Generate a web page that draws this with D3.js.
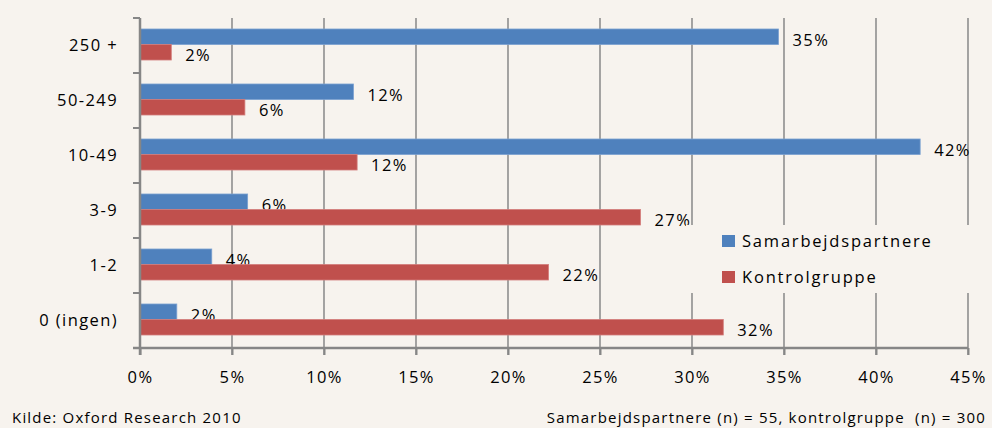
<!DOCTYPE html>
<meta charset="utf-8">
<script src="https://d3js.org/d3.v7.min.js"></script>
<style>
body { margin: 0; background: #f7f3ee; font-family: 'Open Sans', sans-serif; }
svg text { fill: #000; }
</style>
<svg width="992" height="428"></svg>
<script>
// categories (top to bottom) and series values in percent
var categories = ["250 +", "50-249", "10-49", "3-9", "1-2", "0 (ingen)"];
var seriesNames = ["Samarbejdspartnere", "Kontrolgruppe"];
var samarbejde = [34.7, 11.6, 42.4, 5.85, 3.9, 2.0];
var kontrol = [1.7, 5.7, 11.8, 27.2, 22.2, 31.7];
var samarbejdeLabels = ["35%", "12%", "42%", "6%", "4%", "2%"];
var kontrolLabels = ["2%", "6%", "12%", "27%", "22%", "32%"];
var xTicks = [0, 5, 10, 15, 20, 25, 30, 35, 40, 45];
var colors = ["#4f81bd", "#c0504d"];
var strokes = ["#7aa0d0", "#d37c7a"];

var fs = 16.5, ls = 1.4;

var svg = d3.select("svg");

var x = d3.scaleLinear().domain([0, 45]).range([140, 968]);
var y = d3.scaleBand().domain(categories).range([18, 348]);
var y1 = d3.scaleBand().domain(seriesNames).range([11, 42]);

var rows = categories.map(function(c, i) {
  return {cat: c, vals: [samarbejde[i], kontrol[i]], labels: [samarbejdeLabels[i], kontrolLabels[i]]};
});

// gridlines
svg.append("g").selectAll("line")
  .data(xTicks.slice(1))
  .enter().append("line")
  .attr("x1", function(d) { return x(d); })
  .attr("x2", function(d) { return x(d); })
  .attr("y1", 18).attr("y2", 355)
  .attr("stroke", "#8e8e8e").attr("stroke-width", 1.6);

// bars + labels, series by series so red bars overlap blue labels
seriesNames.forEach(function(s, si) {
  var g = svg.append("g");
  g.selectAll("rect")
    .data(rows)
    .enter().append("rect")
    .attr("x", x(0))
    .attr("y", function(d) { return y(d.cat) + y1(s); })
    .attr("width", function(d) { return x(d.vals[si]) - x(0); })
    .attr("height", y1.bandwidth())
    .attr("fill", colors[si])
    .attr("stroke", strokes[si])
    .attr("stroke-width", 0.8);
  g.selectAll("text")
    .data(rows)
    .enter().append("text")
    .attr("x", function(d) { return x(d.vals[si]) + 14; })
    .attr("y", function(d) { return y(d.cat) + y1(s) + y1.bandwidth() / 2 + 3; })
    .attr("dy", "0.35em")
    .attr("font-size", fs)
    .attr("letter-spacing", ls)
    .text(function(d) { return d.labels[si]; });
});

// x axis
var xAxis = svg.append("g")
  .attr("transform", "translate(0,348)")
  .call(d3.axisBottom(x).tickValues(xTicks).tickSize(7).tickPadding(16)
    .tickFormat(function(d) { return d + "%"; }));
xAxis.select(".domain").attr("stroke", "#868686").attr("stroke-width", 2.5)
  .attr("d", "M133,0H968");
xAxis.selectAll(".tick line").attr("stroke", "#868686").attr("stroke-width", 2);
xAxis.selectAll("text").attr("font-size", fs).attr("letter-spacing", ls)
  .attr("font-family", "'Open Sans', sans-serif");

// y axis
var yAxis = svg.append("g")
  .attr("transform", "translate(140,0)")
  .call(d3.axisLeft(y).tickSize(0).tickPadding(22));
yAxis.select(".domain").attr("stroke", "#868686").attr("stroke-width", 2.5)
  .attr("d", "M0,18V355");
yAxis.selectAll("text").attr("font-size", fs).attr("letter-spacing", ls)
  .attr("font-family", "'Open Sans', sans-serif");
yAxis.selectAll(".edge").data(d3.range(categories.length + 1))
  .enter().append("line").attr("class", "edge")
  .attr("x1", -7).attr("x2", 0)
  .attr("y1", function(i) { return 18 + i * y.step(); })
  .attr("y2", function(i) { return 18 + i * y.step(); })
  .attr("stroke", "#868686").attr("stroke-width", 2);

// legend
var legend = svg.append("g").attr("transform", "translate(686,225)");
legend.append("rect").attr("width", 300).attr("height", 68).attr("fill", "#f7f3ee");
seriesNames.forEach(function(s, i) {
  legend.append("rect").attr("x", 36).attr("y", 10 + i * 36)
    .attr("width", 13).attr("height", 12).attr("fill", colors[i]);
  legend.append("text").attr("x", 56).attr("y", 16 + i * 36)
    .attr("dy", "0.35em").attr("font-size", fs).attr("letter-spacing", 1.8)
    .text(s);
});

// footer
svg.append("text").attr("x", 12).attr("y", 423).attr("font-size", 15)
  .attr("letter-spacing", 1.2).text("Kilde: Oxford Research 2010");
svg.append("text").attr("x", 986).attr("y", 423).attr("font-size", 15)
  .attr("text-anchor", "end").attr("letter-spacing", 1.2)
  .attr("xml:space", "preserve")
  .text("Samarbejdspartnere (n) = 55, kontrolgruppe  (n) = 300");
</script>
